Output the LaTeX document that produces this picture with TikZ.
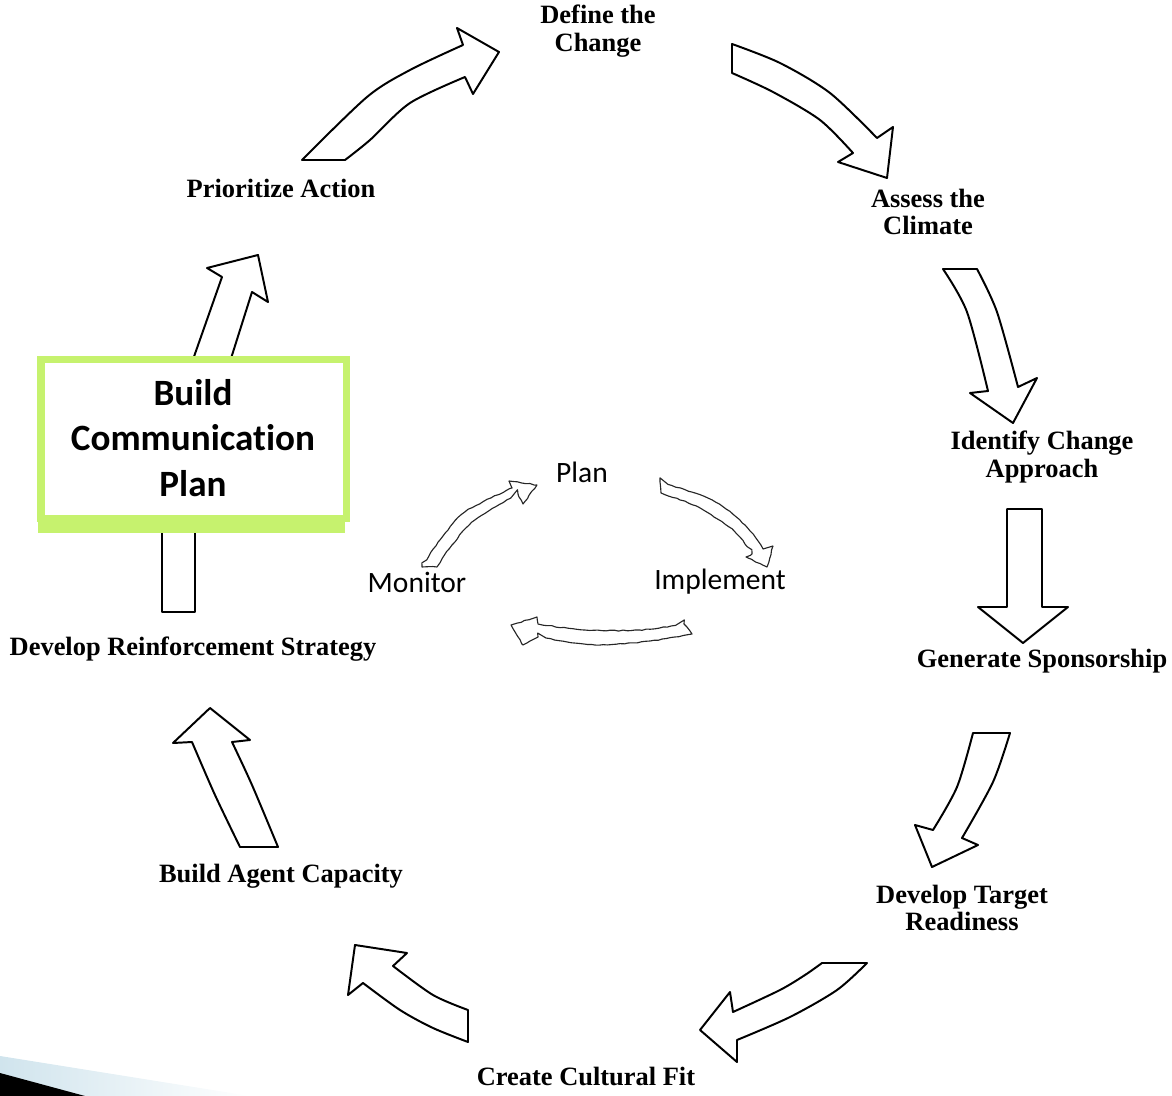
\documentclass[tikz,border=0pt]{standalone}
\usepackage{fontspec}
\setmainfont{Liberation Serif}
\newfontfamily\calibri[RawFeature=-liga]{Carlito}
\usetikzlibrary{decorations.pathmorphing}
\definecolor{framegreen}{RGB}{198,242,110}
\definecolor{bandblue}{RGB}{208,228,237}
\begin{document}
\begin{tikzpicture}[x=0.025cm,y=-0.025cm,
  steplabel/.style={font=\fontsize{18.8}{19.5}\selectfont\bfseries, align=center, inner sep=0pt},
  cyclelabel/.style={font=\calibri\fontsize{21}{24}\selectfont, inner sep=0pt},
  boxlabel/.style={font=\calibri\bfseries\fontsize{26.4}{32.4}\selectfont, align=center, inner sep=0pt},
  blockarrow/.style={draw=black, fill=white, line width=1.4pt, line join=round},
  thinarrow/.style={draw=black!85, fill=white, line width=0.8pt, line join=round,
    decorate, decoration={random steps, segment length=3pt, amplitude=0.35pt}}]
\useasboundingbox (0,0) rectangle (1172,1096);
\pgfmathsetseed{7}

% corner decoration
\shade[left color=bandblue, right color=white] (0,1056) -- (250,1096) -- (0,1096) -- cycle;
\fill[black] (0,1073) -- (85,1096) -- (0,1096) -- cycle;

% outer cycle labels
\node[steplabel] (define)    at (598,31)   {Define the\\Change};
\node[steplabel] (assess)    at (928,212)  {Assess the\\Climate};
\node[steplabel] (identify)  at (1042,457) {Identify Change\\Approach};
\node[steplabel] (sponsor)   at (1042,661) {Generate Sponsorship};
\node[steplabel] (readiness) at (962,908)  {Develop Target\\Readiness};
\node[steplabel] (cultural)  at (586,1076) {Create Cultural Fit};
\node[steplabel] (agent)     at (281,876)  {Build Agent Capacity};
\node[steplabel] (reinforce) at (193,649)  {Develop Reinforcement Strategy};
\node[steplabel] (prioritize) at (281,188) {Prioritize Action};

% Prioritize Action -> Define the Change
\path[blockarrow] plot[smooth, tension=0.5] coordinates {(302,160) (367,97) (410,70) (463,45)}
  -- (457,28) -- (499,52) -- (473,94) -- (465,77)
  -- plot[smooth, tension=0.5] coordinates {(465,77) (410,103) (370,140) (345,160)} -- cycle;

% Define the Change -> Assess the Climate
\path[blockarrow] plot[smooth, tension=0.5] coordinates {(732,44) (780,63) (830,93) (877,138)}
  -- (893,127) -- (887,178) -- (838,162) -- (853,153)
  -- plot[smooth, tension=0.5] coordinates {(853,153) (820,120) (773,92) (732,73)} -- cycle;

% Assess the Climate -> Identify Change Approach
\path[blockarrow] plot[smooth, tension=0.5] coordinates {(977,269) (997,312) (1018,387)}
  -- (1037,378) -- (1013,423) -- (970,393) -- (988,391)
  -- plot[smooth, tension=0.5] coordinates {(988,391) (967,312) (943,269)} -- cycle;

% Identify Change Approach -> Generate Sponsorship
\path[blockarrow] (1007,509) -- (1042,509) -- (1042,607) -- (1068,607) -- (1023,643)
  -- (978,607) -- (1007,607) -- cycle;

% Generate Sponsorship -> Develop Target Readiness
\path[blockarrow] plot[smooth, tension=0.5] coordinates {(1010,733) (993,782) (962,838)}
  -- (978,845) -- (932,867) -- (915,825) -- (933,830)
  -- plot[smooth, tension=0.5] coordinates {(933,830) (957,787) (973,733)} -- cycle;

% Develop Target Readiness -> Create Cultural Fit
\path[blockarrow] plot[smooth, tension=0.5] coordinates {(822,963) (805,975) (780,990) (733,1012)}
  -- (730,992) -- (700,1030) -- (737,1062) -- (737,1040)
  -- plot[smooth, tension=0.5] coordinates {(737,1040) (790,1017) (837,990) (867,963)} -- cycle;

% Create Cultural Fit -> Build Agent Capacity
\path[blockarrow] plot[smooth, tension=0.5] coordinates {(468,1010) (433,995) (393,966)}
  -- (407,953) -- (355,945) -- (348,995) -- (363,983)
  -- plot[smooth, tension=0.5] coordinates {(363,983) (400,1010) (433,1028) (468,1042)} -- cycle;

% Build Agent Capacity -> Develop Reinforcement Strategy
\path[blockarrow] plot[smooth, tension=0.5] coordinates {(278,847) (252,785) (232,742)}
  -- (250,740) -- (210,708) -- (173,743) -- (192,742)
  -- plot[smooth, tension=0.5] coordinates {(192,742) (215,795) (240,847)} -- cycle;

% Develop Reinforcement Strategy -> communication plan (shaft only)
\path[blockarrow] (162,612) -- (162,522) -- (195,522) -- (195,612) -- cycle;

% communication plan -> Prioritize Action
\path[blockarrow] (190,368) -- (222,277) -- (207,268) -- (258,255) -- (268,302)
  -- (252,292) -- (228,368) -- cycle;

% communication plan box
\fill[framegreen] (38,516) rectangle (345,533);
\draw[framegreen, fill=white, line width=5.4pt] (41,359.5) rectangle (346.5,518.5);
\node[boxlabel] (commplan) at (193,438) {Build\\Communication\\Plan};

% inner cycle
\node[cyclelabel] (plan)      at (582,472) {Plan};
\node[cyclelabel] (monitor)   at (417,582) {Monitor};
\node[cyclelabel] (implement) at (720,582) {Implement};

% Monitor -> Plan
\path[thinarrow] plot[smooth, tension=0.5] coordinates {(422,567) (440,540) (465,512) (512,488)}
  -- (509,481) -- (537,485) -- (523,504) -- (518,494)
  -- plot[smooth, tension=0.5] coordinates {(518,494) (475,520) (452,545) (437,567)} -- cycle;

% Plan -> Implement
\path[thinarrow] (660,482) -- plot[smooth, tension=0.5] coordinates {(660,482) (712,500) (745,525) (763,549)}
  -- (773,546) -- (767,567) -- (746,557) -- (752,554)
  -- plot[smooth, tension=0.5] coordinates {(752,554) (735,532) (700,508) (661,493)} -- cycle;

% Implement -> Monitor
\path[thinarrow] plot[smooth, tension=0.5] coordinates {(684,624) (640,630) (585,630) (538,624)}
  -- (537,617) -- (511,625) -- (523,645) -- (538,637)
  -- plot[smooth, tension=0.5] coordinates {(538,637) (595,645) (650,641) (692,634)} -- cycle;
\end{tikzpicture}
\end{document}
